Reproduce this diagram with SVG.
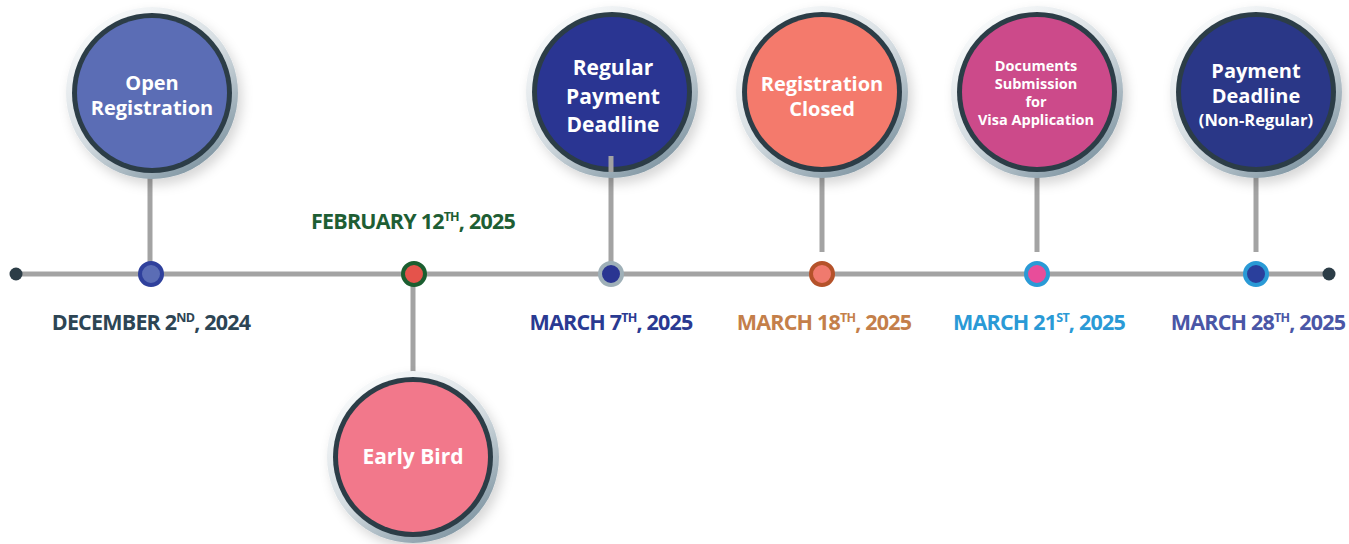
<svg xmlns="http://www.w3.org/2000/svg" width="1349" height="544" viewBox="0 0 1349 544">
<defs>
<linearGradient id="ring" x1="0.2" y1="0.1" x2="0.8" y2="0.95">
<stop offset="0" stop-color="#f6f8f9"/>
<stop offset="0.5" stop-color="#d3dbe0"/>
<stop offset="1" stop-color="#7f95a2"/>
</linearGradient>
<filter id="sh" x="-30%" y="-30%" width="160%" height="160%">
<feDropShadow dx="4" dy="6" stdDeviation="6" flood-color="#000" flood-opacity="0.16"/>
</filter>
</defs>
<style>
.stem{stroke:#a3a3a3;stroke-width:5}
.outer{fill:url(#ring);filter:url(#sh)}
.dark{fill:#2c3d47}
.t{font-family:"Open Sans","Noto Sans",sans-serif;font-weight:700;fill:#fff;text-anchor:middle}
.d{font-family:"Open Sans","Noto Sans",sans-serif;font-weight:700;font-size:21.5px;text-anchor:middle;letter-spacing:-0.8px}
.sup{font-size:12.5px}
</style>
<rect width="1349" height="544" fill="#fff"/>
<g id="connectors">
<line x1="16" y1="274" x2="1329" y2="274" stroke="#a3a3a3" stroke-width="5"/>
<line class="stem" x1="150" y1="170" x2="150" y2="262"/>
<line class="stem" x1="413" y1="286" x2="413" y2="374"/>
<line class="stem" x1="611" y1="156" x2="611" y2="262"/>
<line class="stem" x1="822" y1="176" x2="822" y2="252"/>
<line class="stem" x1="1037" y1="176" x2="1037" y2="252"/>
<line class="stem" x1="1256" y1="176" x2="1256" y2="252"/>
<circle cx="16" cy="274" r="6.5" fill="#2c3d47"/>
<circle cx="1329" cy="274" r="6.5" fill="#2c3d47"/>
</g>
<g id="dots">
<circle cx="151" cy="274" r="11" fill="#5b6db5" stroke="#2f409c" stroke-width="4"/>
<circle cx="414" cy="274" r="11" fill="#e5534b" stroke="#1b5e30" stroke-width="4"/>
<circle cx="611" cy="274" r="11" fill="#2a3592" stroke="#9fb0b8" stroke-width="4"/>
<circle cx="822" cy="274" r="11" fill="#f07a6e" stroke="#b5522a" stroke-width="4"/>
<circle cx="1037" cy="274" r="11" fill="#e84d9a" stroke="#2a9ad6" stroke-width="4"/>
<circle cx="1256" cy="274" r="11" fill="#2a3f9c" stroke="#2a9ad6" stroke-width="4"/>
</g>
<g id="open-registration">
<circle class="outer" cx="152" cy="93" r="86"/>
<circle class="dark" cx="152" cy="93" r="80"/>
<circle cx="152" cy="93" r="75" fill="#5b6db5"/>
<text class="t" font-size="20" x="152" y="90">Open</text>
<text class="t" font-size="20" x="152" y="115">Registration</text>
</g>
<g id="early-bird">
<circle class="outer" cx="413" cy="457" r="86"/>
<circle class="dark" cx="413" cy="457" r="80"/>
<circle cx="413" cy="457" r="75" fill="#f2788b"/>
<text class="t" font-size="21" x="413" y="464">Early Bird</text>
</g>
<g id="regular-payment">
<circle class="outer" cx="612" cy="92" r="86"/>
<circle class="dark" cx="612" cy="92" r="80"/>
<circle cx="612" cy="92" r="75" fill="#2a3592"/>
<line class="stem" x1="611" y1="156" x2="611" y2="172"/>
<text class="t" font-size="21" x="613" y="75">Regular</text>
<text class="t" font-size="21" x="613" y="104">Payment</text>
<text class="t" font-size="21" x="613" y="132">Deadline</text>
</g>
<g id="registration-closed">
<circle class="outer" cx="822" cy="92" r="86"/>
<circle class="dark" cx="822" cy="92" r="80"/>
<circle cx="822" cy="92" r="75" fill="#f47a6c"/>
<text class="t" font-size="20" x="822" y="91">Registration</text>
<text class="t" font-size="20" x="822" y="116">Closed</text>
</g>
<g id="documents">
<circle class="outer" cx="1037" cy="92" r="86"/>
<circle class="dark" cx="1037" cy="92" r="80"/>
<circle cx="1037" cy="92" r="75" fill="#cc4a8a"/>
<text class="t" font-size="14.5" x="1036" y="71">Documents</text>
<text class="t" font-size="14.5" x="1036" y="89">Submission</text>
<text class="t" font-size="14.5" x="1036" y="107">for</text>
<text class="t" font-size="14.5" x="1036" y="125">Visa Application</text>
</g>
<g id="payment-nonregular">
<circle class="outer" cx="1256" cy="92" r="86"/>
<circle class="dark" cx="1256" cy="92" r="80"/>
<circle cx="1256" cy="92" r="75" fill="#2a3787"/>
<text class="t" font-size="20" x="1256" y="78">Payment</text>
<text class="t" font-size="20" x="1256" y="103">Deadline</text>
<text class="t" font-size="16.5" x="1256" y="126">(Non-Regular)</text>
</g>
<g id="dates">
<text class="d" x="151" y="330" fill="#2d4554">DECEMBER 2<tspan class="sup" dy="-8">ND</tspan><tspan dy="8">, 2024</tspan></text>
<text class="d" x="413" y="229" fill="#1e5e34">FEBRUARY 12<tspan class="sup" dy="-8">TH</tspan><tspan dy="8">, 2025</tspan></text>
<text class="d" x="611" y="330" fill="#2a3a92">MARCH 7<tspan class="sup" dy="-8">TH</tspan><tspan dy="8">, 2025</tspan></text>
<text class="d" x="824" y="330" fill="#c47f4a">MARCH 18<tspan class="sup" dy="-8">TH</tspan><tspan dy="8">, 2025</tspan></text>
<text class="d" x="1039" y="330" fill="#2a9ad6">MARCH 21<tspan class="sup" dy="-8">ST</tspan><tspan dy="8">, 2025</tspan></text>
<text class="d" x="1258" y="330" fill="#4a56a6">MARCH 28<tspan class="sup" dy="-8">TH</tspan><tspan dy="8">, 2025</tspan></text>
</g>
</svg>
